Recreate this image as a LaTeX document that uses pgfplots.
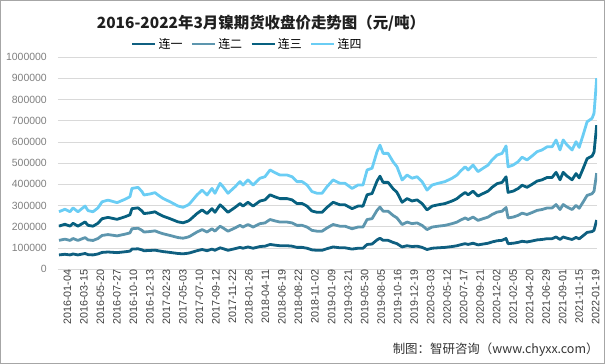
\documentclass[border=0pt]{standalone}
\usepackage{fontspec}
\setmainfont{Liberation Sans}
\newfontfamily\cjk{Noto Sans CJK SC}
\usepackage{pgfplots}
\usepackage{pgfplotstable}
\pgfplotsset{compat=1.18}
\definecolor{cA}{HTML}{0F5F80}
\definecolor{cB}{HTML}{5D96AE}
\definecolor{cC}{HTML}{07607F}
\definecolor{cD}{HTML}{6ACDF4}
\definecolor{gridc}{HTML}{D9D9D9}
\definecolor{ylab}{HTML}{7F7F7F}
\definecolor{xlab}{HTML}{404040}

% columns: contract prices (yuan/ton) of 连一..连四, plotted stacked
\pgfplotstableread{
x a b c d
0.00 67750 68500 67200 67900
0.36 70750 71300 70100 70600
0.67 67750 68200 67400 67900
0.85 72250 72800 71700 72400
1.15 67750 68300 67300 67600
1.58 74500 74900 73800 74600
1.76 69000 69600 68500 69200
2.06 67750 68100 67300 67900
2.36 72250 72700 71800 72400
2.61 79500 79900 78900 79600
2.97 81500 82100 80900 81400
3.52 78500 78900 78000 78600
4.00 82500 83000 81900 82400
4.30 85500 86100 85000 85400
4.42 95250 95800 94600 95300
4.79 96500 97000 95900 96400
5.03 91500 92000 90900 91600
5.15 87500 88000 87000 87400
5.52 88750 89200 88200 88800
5.82 90250 90800 89700 90300
6.00 87500 87900 87000 87600
6.30 83500 84000 83000 83400
6.73 79500 79900 79000 79600
7.21 74500 75000 74000 74600
7.52 73000 73500 72500 73100
7.82 75750 76200 75200 75800
7.94 77750 78200 77300 77800
8.36 87500 88000 87000 87600
8.67 93250 93800 92700 93300
8.97 87500 88000 87000 87600
9.27 95250 95700 94700 95300
9.45 89500 90000 89000 89600
9.76 101250 101700 100700 101300
9.94 97250 97800 96700 97300
10.24 89500 90000 89000 89600
10.67 97250 97700 96700 97300
10.97 103250 103800 102700 103300
11.15 99250 99700 98700 99300
11.45 105250 105700 104700 105300
11.76 99250 99800 98700 99300
12.18 107250 107700 106700 107300
12.48 109000 109500 108500 109100
12.79 117000 117500 116400 117100
13.09 113750 114200 113200 113800
13.39 111000 111500 110500 111100
13.82 111000 111400 110500 111100
14.12 109000 109500 108500 109100
14.42 103250 103700 102700 103300
14.73 103250 103800 102700 103300
15.03 99250 99700 98700 99300
15.33 91500 92000 91000 91600
15.64 89500 90000 89000 89600
15.94 89500 89900 89000 89600
16.24 97250 97700 96700 97300
16.61 105250 105800 104700 105300
17.03 101250 101700 100700 101300
17.33 101250 101800 100700 101300
17.76 95250 95700 94700 95300
18.12 99250 99800 98700 99300
18.42 99250 99700 98700 99300
18.67 117000 117600 116400 117100
18.97 119000 119500 118400 119100
19.27 138500 139000 137900 138600
19.45 146250 146800 145600 146300
19.64 136500 137000 135900 136600
19.94 136500 137100 135900 136600
20.24 126750 127200 126200 126800
20.48 120750 121300 120200 120800
20.79 105250 105700 104700 105300
21.09 111000 111500 110500 111100
21.39 107250 107800 106700 107300
21.70 109000 109500 108500 109100
22.00 103250 103700 102700 103300
22.30 93250 93800 92700 93300
22.61 99250 99700 98700 99300
22.97 101250 101800 100700 101300
23.39 103250 103700 102700 103300
23.82 107250 107800 106700 107300
24.12 111000 111500 110500 111100
24.30 115000 115500 114500 115100
24.61 120750 121200 120200 120800
24.79 117000 117500 116500 117100
25.09 122750 123200 122200 122800
25.39 115000 115500 114500 115100
25.70 119000 119600 118500 119100
26.00 122750 123200 122200 122800
26.24 128750 129300 128200 128800
26.55 134500 135000 134000 134600
26.85 136500 137100 136000 136600
27.09 145250 145800 144700 145300
27.21 120750 121200 120200 120800
27.52 122750 123300 122200 122800
27.82 126750 127200 126200 126800
28.06 132000 132500 131500 132100
28.36 128750 129300 128200 128800
28.67 133500 134000 133000 133600
28.97 138500 139000 138000 138600
29.27 140500 141100 140000 140600
29.58 144250 144700 143700 144300
29.88 144250 144800 143700 144300
30.12 152250 152700 151700 152300
30.36 140500 141000 140000 140600
30.55 152250 152800 151700 152300
30.79 146250 146700 145700 146300
31.09 140500 141000 140000 140600
31.33 150250 150800 149700 150300
31.52 143500 144000 143000 143600
31.76 158250 158700 157700 158300
32.00 173750 174200 173200 173800
32.30 177750 178300 177200 177800
32.42 183750 184200 183200 183800
32.58 232000 221000 226000 221000
}\nidata

\begin{document}
\begin{tikzpicture}
\path[use as bounding box] (0,0) rectangle (605bp,364bp);
\draw[draw=black!35, line width=1bp] (0.5bp,0.5bp) rectangle (604.5bp,363.5bp);
\begin{axis}[
  at={(58bp,94.7bp)}, anchor=south west,
  scale only axis, width=539bp, height=212.3bp,
  xmin=-0.06, xmax=32.6, ymin=0, ymax=1000000,
  stack plots=y,
  axis line style={draw=none},
  ymajorgrids, grid style={color=gridc, line width=0.8bp},
  major tick length=0pt,
  ytick={0,100000,...,1000000},
  scaled y ticks=false,
  /pgf/number format/assume math mode=true,
  yticklabel style={/pgf/number format/fixed, /pgf/number format/1000 sep={},
    anchor=east, inner sep=0pt, xshift=-11bp, text=ylab,
    font=\fontsize{10.5}{12}\selectfont},
  xtick={0,...,32},
  xticklabels={2016-01-04,2016-03-15,2016-05-20,2016-07-27,2016-10-10,2016-12-13,2017-02-23,2017-05-03,2017-07-10,2017-09-12,2017-11-22,2018-01-26,2018-04-11,2018-06-19,2018-08-22,2018-11-02,2019-01-09,2019-03-21,2019-05-30,2019-08-05,2019-10-16,2019-12-19,2020-03-03,2020-05-12,2020-07-17,2020-09-21,2020-12-02,2021-02-05,2021-04-20,2021-06-29,2021-09-01,2021-11-15,2022-01-19},
  xticklabel style={rotate=90, anchor=east, inner sep=0pt, yshift=-8.5bp,
    text=xlab, font=\fontsize{10.8}{12}\selectfont},
  legend columns=4,
  legend style={at={(0.351,1.061)}, anchor=center, draw=none, fill=none,
    font=\cjk\fontsize{12}{14}\selectfont,
    /tikz/every even column/.append style={column sep=6bp}},
  legend image code/.code={\draw[#1] (0bp,0bp) -- (23bp,0bp);},
]
\addplot[color=cA, line width=2.8bp, line join=round] table[x=x,y=a] {\nidata};
\addlegendentry{连一}
\addplot[color=cB, line width=2.8bp, line join=round] table[x=x,y=b] {\nidata};
\addlegendentry{连二}
\addplot[color=cC, line width=2.8bp, line join=round] table[x=x,y=c] {\nidata};
\addlegendentry{连三}
\addplot[color=cD, line width=2.8bp, line join=round] table[x=x,y=d] {\nidata};
\addlegendentry{连四}
\end{axis}
\node[font=\cjk\bfseries\fontsize{15.5}{18}\selectfont, text=black!88] at (261bp,341bp) {2016-2022年3月镍期货收盘价走势图（元/吨）};
\node[anchor=east, font=\cjk\fontsize{12.5}{14}\selectfont, text=black!80] at (602bp,14bp) {制图：智研咨询（www.chyxx.com）};
\end{tikzpicture}
\end{document}
